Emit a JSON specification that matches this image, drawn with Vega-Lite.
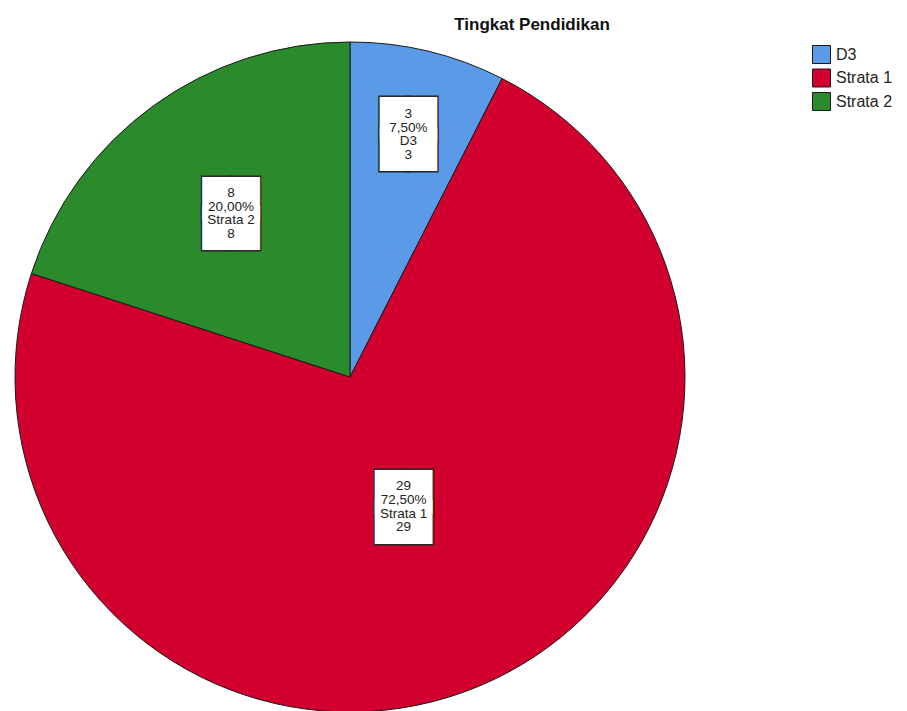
{
  "$schema": "https://vega.github.io/schema/vega-lite/v6.json",
  "autosize": "none",
  "width": 700,
  "height": 674,
  "padding": {"left": 0, "top": 40, "right": 207, "bottom": -3},
  "background": "white",
  "title": {
    "text": "Tingkat Pendidikan",
    "font": "Liberation Sans",
    "fontSize": 17,
    "fontWeight": "bold",
    "color": "#111111",
    "anchor": "middle",
    "dx": 182,
    "offset": 6
  },
  "data": {
    "values": [
      {"cat": "D3", "count": 3, "lbl": "3\n7,50%\nD3\n3"},
      {"cat": "Strata 1", "count": 29, "lbl": "29\n72,50%\nStrata 1\n29"},
      {"cat": "Strata 2", "count": 8, "lbl": "8\n20,00%\nStrata 2\n8"}
    ]
  },
  "encoding": {
    "theta": {"field": "count", "type": "quantitative", "stack": true},
    "order": {"field": "cat", "type": "nominal", "sort": "ascending"}
  },
  "layer": [
    {
      "mark": {"type": "arc", "radius": 335, "stroke": "#1a1a1a", "strokeWidth": 1},
      "encoding": {
        "color": {
          "field": "cat",
          "type": "nominal",
          "scale": {"domain": ["D3", "Strata 1", "Strata 2"], "range": ["#5a9ae6", "#d2002e", "#2a8a2c"]},
          "legend": {
            "title": null,
            "orient": "none",
            "legendX": 812,
            "legendY": 5,
            "symbolType": "square",
            "symbolSize": 324,
            "symbolStrokeColor": "#1a1a1a",
            "symbolStrokeWidth": 1,
            "symbolOpacity": 1,
            "labelFont": "Liberation Sans",
            "labelFontSize": 16,
            "labelColor": "#222222",
            "labelOffset": 5,
            "rowPadding": 0.5
          }
        }
      }
    },
    {
      "mark": {"type": "text", "text": "██\n██", "lineBreak": "\n", "font": "DejaVu Sans", "fontSize": 37, "lineHeight": 29.7, "fill": "white", "stroke": "#2a2a2a", "strokeWidth": 3, "baseline": "middle", "align": "center", "dy": -12.5},
      "encoding": {
        "detail": {"field": "cat", "type": "nominal"},
        "radius": {"field": "count", "type": "quantitative", "scale": {"type": "log", "domain": [3, 29], "range": [250, 140]}}
      }
    },
    {
      "mark": {"type": "text", "text": "██\n██", "lineBreak": "\n", "font": "DejaVu Sans", "fontSize": 37, "lineHeight": 29.7, "fill": "white", "baseline": "middle", "align": "center", "dy": -12.5},
      "encoding": {
        "detail": {"field": "cat", "type": "nominal"},
        "radius": {"field": "count", "type": "quantitative"}
      }
    },
    {
      "mark": {"type": "text", "lineBreak": "\n", "font": "Liberation Sans", "fontSize": 13.5, "lineHeight": 13.6, "fill": "#222222", "baseline": "middle", "align": "center", "dy": -20},
      "encoding": {
        "detail": {"field": "cat", "type": "nominal"},
        "radius": {"field": "count", "type": "quantitative"},
        "text": {"field": "lbl", "type": "nominal"}
      }
    }
  ],
  "config": {"view": {"stroke": null}}
}
